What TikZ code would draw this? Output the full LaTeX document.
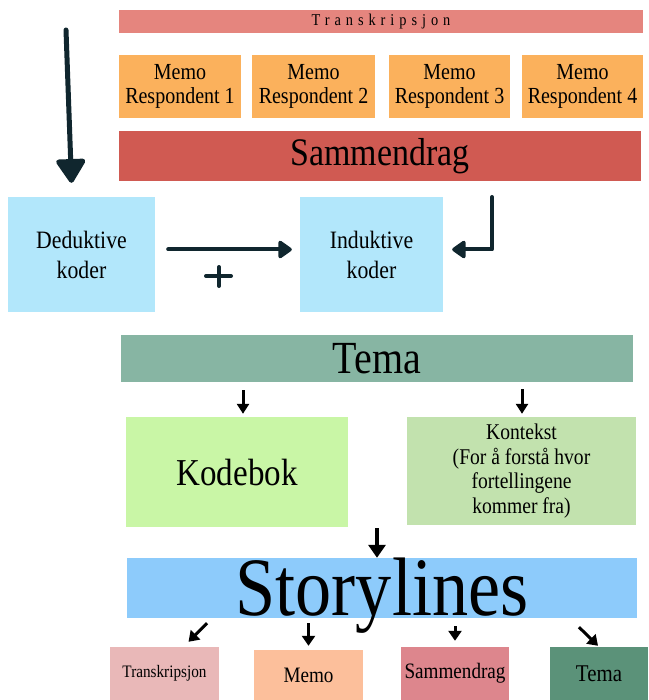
\documentclass[tikz,border=0pt]{standalone}
\usepackage{fontspec}
\setmainfont{Liberation Serif}[FakeStretch=0.87]
\usetikzlibrary{arrows.meta,calc}
\definecolor{transc}{HTML}{E5857E}
\definecolor{memoc}{HTML}{FBB15C}
\definecolor{sammc}{HTML}{D05A52}
\definecolor{kodec}{HTML}{B2E7FB}
\definecolor{temac}{HTML}{87B5A3}
\definecolor{bokc}{HTML}{C9F6A6}
\definecolor{kontc}{HTML}{C2E2AE}
\definecolor{storyc}{HTML}{8DCBFB}
\definecolor{btransc}{HTML}{E9B8B8}
\definecolor{bmemoc}{HTML}{FCBF9B}
\definecolor{bsammc}{HTML}{DD868D}
\definecolor{btemac}{HTML}{5B9279}
\definecolor{inkc}{HTML}{10262E}
\begin{document}
\begin{tikzpicture}[x=1pt,y=-1pt,
box/.style={rectangle,inner sep=0pt,align=center,text=black},
bigarr/.style={line width=5pt,inkc,line cap=round,-{Triangle[round,length=26pt,width=32pt]}},
midarr/.style={line width=4pt,inkc,line cap=round,line join=round,-{Triangle[round,length=15pt,width=20pt]}},
smarr/.style={line width=3pt,black,-{Triangle[length=10pt,width=12pt]}},
botarr/.style={line width=3pt,black,-{Triangle[length=10pt,width=13pt]}}]
\fill[white] (0,0) rectangle (648,700);
\useasboundingbox (0,0) rectangle (648,700);
\node[box,fill=transc,minimum width=524,minimum height=23,font=\fontsize{16.5}{18}\selectfont\addfontfeature{LetterSpace=30}] (trans) at (381,21.5) {Transkripsjon};
\node[box,fill=memoc,minimum width=122,minimum height=63,font=\fontsize{23}{24}\selectfont] (memo1) at (180,86.5) {Memo\\Respondent 1};
\node[box,fill=memoc,minimum width=123,minimum height=63,font=\fontsize{23}{24}\selectfont] (memo2) at (313.5,86.5) {Memo\\Respondent 2};
\node[box,fill=memoc,minimum width=121,minimum height=63,font=\fontsize{23}{24}\selectfont] (memo3) at (449.5,86.5) {Memo\\Respondent 3};
\node[box,fill=memoc,minimum width=121,minimum height=63,font=\fontsize{23}{24}\selectfont] (memo4) at (582.5,86.5) {Memo\\Respondent 4};
\node[box,fill=sammc,minimum width=522,minimum height=50,font=\fontsize{39}{40}\selectfont] (samm) at (380,156) {Sammendrag};
\node[box,fill=kodec,minimum width=147,minimum height=115,font=\fontsize{25}{30}\selectfont] (ded) at (81.5,254.5) {Deduktive\\koder};
\node[box,fill=kodec,minimum width=143,minimum height=115,font=\fontsize{25}{30}\selectfont] (ind) at (371.5,254.5) {Induktive\\koder};
\coordinate (start) at (66,30);
\draw[bigarr] (start) -- ([xshift=-10pt,yshift=14pt]ded.north);
\draw[midarr,shorten <=13pt,shorten >=8pt] ([yshift=5pt]ded.east) -- ([yshift=5pt]ind.east -| ind.west);
\draw[line width=4pt,inkc,line cap=round] (206,276) -- (231,276) (219,267) -- (219,286);
\coordinate (bend) at (492,197);
\draw[midarr,shorten >=9pt] (bend) |- ([yshift=5pt]ind.east);
\node[box,fill=temac,minimum width=512,minimum height=47,font=\fontsize{46}{48}\selectfont] (tema) at (377,358.5) {Tema};
\node[box,fill=bokc,minimum width=222,minimum height=110,font=\fontsize{38}{40}\selectfont] (kode) at (237,472) {Kodebok};
\node[box,fill=kontc,minimum width=229,minimum height=108,font=\fontsize{22.5}{24.5}\selectfont] (kont) at (521.5,471) {Kontekst\\(For å forstå hvor\\fortellingene\\kommer fra)};
\draw[smarr] ($(kode.north |- tema.south)+(6,8)$) -- ($(kode.north)+(6,-3)$);
\draw[smarr] ($(kont.north |- tema.south)+(0.5,7)$) -- ($(kont.north)+(0.5,-3)$);
\node[box,fill=storyc,minimum width=510,minimum height=60] (story) at (382,588) {};
\node[anchor=base,inner sep=0pt,font=\fontsize{83}{84}\selectfont] (storytxt) at (382,615) {Storylines};
\coordinate (join) at (377,528);
\draw[line width=3.5pt,black,-{Triangle[length=13pt,width=17pt]}] (join) -- (join |- story.north);
\node[box,fill=btransc,minimum width=109,minimum height=53,font=\fontsize{17.5}{20}\selectfont] (btrans) at (164.5,673.5) {Transkripsjon};
\node[box,fill=bmemoc,minimum width=109,minimum height=50,font=\fontsize{22}{24}\selectfont] (bmemo) at (308.5,675) {Memo};
\node[box,fill=bsammc,minimum width=108,minimum height=53,font=\fontsize{22}{24}\selectfont] (bsamm) at (455,673.5) {Sammendrag};
\node[box,fill=btemac,minimum width=98,minimum height=53,font=\fontsize{24}{26}\selectfont] (btema) at (599,673.5) {Tema};
\draw[botarr] ([xshift=-175pt,yshift=-5pt]story.south) -- ([xshift=24pt,yshift=5pt]btrans.north);
\draw[botarr,shorten <=5pt,shorten >=4pt] (story.south -| bmemo.north) -- (bmemo.north);
\draw[botarr,shorten <=8pt,shorten >=6pt] (story.south -| bsamm.north) -- (bsamm.north);
\draw[botarr] ([xshift=197pt,yshift=-9pt]story.south) -- ([xshift=-1pt,yshift=1pt]btema.north);
\end{tikzpicture}
\end{document}
